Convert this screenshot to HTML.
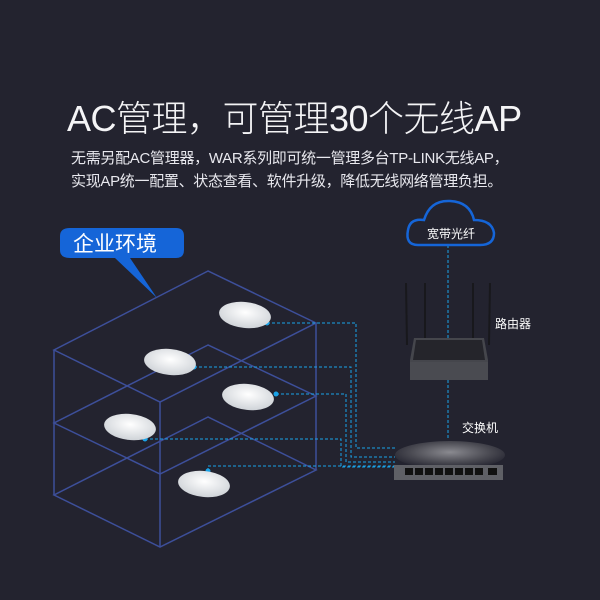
<!DOCTYPE html>
<html><head><meta charset="utf-8"><style>
body{margin:0;width:600px;height:600px;background:#23232f;overflow:hidden;position:relative;font-family:"Liberation Sans","Noto Sans CJK SC",sans-serif;color:#fff}
.t{position:absolute;white-space:nowrap}
</style></head><body>
<div class="t" style="left:67px;top:90px;font-size:36px;letter-spacing:-0.5px;font-weight:300;color:#f4f4f6">AC管理，可管理30个无线AP</div>
<div class="t" style="left:71px;top:147px;font-size:15px;line-height:23px;letter-spacing:-0.3px;color:#e8e8ee">无需另配AC管理器，WAR系列即可统一管理多台TP-LINK无线AP，<br>实现AP统一配置、状态查看、软件升级，降低无线网络管理负担。</div>
<svg width="600" height="600" style="position:absolute;left:0;top:0">
<defs><radialGradient id="ap" cx="50%" cy="40%" r="60%"><stop offset="0" stop-color="#fff"/><stop offset="1" stop-color="#cfd3d8"/></radialGradient>
<radialGradient id="sw" cx="50%" cy="40%" r="60%"><stop offset="0" stop-color="#8a8a90"/><stop offset="0.6" stop-color="#4a4a52"/><stop offset="1" stop-color="#23232f"/></radialGradient></defs>
<g fill="none" stroke="#3d4f9a" stroke-width="1.5">
<polygon points="208,271 54,350 160,402 316,323"/>
<polygon points="208,345 54,423 160,474 316,396"/>
<polygon points="208,417 54,495 160,547 316,470"/>
<line x1="54" y1="350" x2="54" y2="495"/><line x1="160" y1="402" x2="160" y2="547"/><line x1="316" y1="323" x2="316" y2="470"/>
</g>
<path d="M70,228 H176 Q184,228 184,236 V250 Q184,258 176,258 H130 L157,298 L115,258 H70 Q60,258 60,250 V236 Q60,228 70,228Z" fill="#1565d8"/>
<text x="73" y="251" font-size="21" fill="#fff" font-family="Liberation Sans,Noto Sans CJK SC,sans-serif">企业环境</text>
<g fill="none" stroke="#1aa3e8" stroke-width="1" stroke-dasharray="3,2">
<polyline points="267,323 356,323 356,448 395,448"/>
<polyline points="194,367 351,367 351,457 395,457"/>
<polyline points="276,394 346,394 346,462 395,462"/>
<polyline points="145,439 341,439 341,467 395,467"/>
<polyline points="208,471 208,466 395,466"/>
<line x1="448" y1="245" x2="448" y2="338"/><line x1="448" y1="380" x2="448" y2="440"/>
</g>
<g fill="#1aa3e8"><circle cx="267" cy="323" r="2.5"/><circle cx="194" cy="367" r="2.5"/><circle cx="276" cy="394" r="2.5"/><circle cx="145" cy="439" r="2.5"/><circle cx="208" cy="471" r="2.5"/></g>
<g fill="url(#ap)">
<ellipse cx="245" cy="315" rx="26" ry="13" transform="rotate(6 245 315)"/>
<ellipse cx="170" cy="362" rx="26" ry="13" transform="rotate(6 170 362)"/>
<ellipse cx="248" cy="397" rx="26" ry="13" transform="rotate(6 248 397)"/>
<ellipse cx="130" cy="427" rx="26" ry="13" transform="rotate(6 130 427)"/>
<ellipse cx="204" cy="484" rx="26" ry="13" transform="rotate(6 204 484)"/>
</g>
<path d="M418,245 Q405,245 408,230 Q410,218 424,220 Q430,200 450,201 Q470,202 474,220 Q492,220 494,233 Q494,245 480,245Z" fill="#23232f" stroke="#1565d8" stroke-width="2.5"/>
<text x="427" y="238" font-size="12" fill="#fff">宽带光纤</text>
<g stroke="#18181c" stroke-width="2"><line x1="406" y1="283" x2="407" y2="345"/><line x1="425" y1="283" x2="425" y2="340"/><line x1="473" y1="283" x2="473" y2="340"/><line x1="490" y1="283" x2="489" y2="345"/></g>
<path d="M414,338 H484 L488,360 V380 H410 V360Z" fill="#45464c"/>
<path d="M416,340 H482 L485,360 H413Z" fill="#25252b"/>
<rect x="410" y="362" width="78" height="18" fill="#4a4b51"/>
<text x="495" y="328" font-size="12" fill="#fff">路由器</text>
<text x="462" y="432" font-size="12" fill="#fff">交换机</text>
<ellipse cx="450" cy="455" rx="55" ry="14" fill="url(#sw)"/>
<rect x="394" y="465" width="109" height="15" fill="#5f6066"/>
<g fill="#111"><rect x="405" y="468" width="8" height="7"/><rect x="415" y="468" width="8" height="7"/><rect x="425" y="468" width="8" height="7"/><rect x="435" y="468" width="8" height="7"/><rect x="445" y="468" width="8" height="7"/><rect x="455" y="468" width="8" height="7"/><rect x="465" y="468" width="8" height="7"/><rect x="475" y="468" width="8" height="7"/><rect x="488" y="468" width="9" height="7"/></g>
</svg>
</body></html>
